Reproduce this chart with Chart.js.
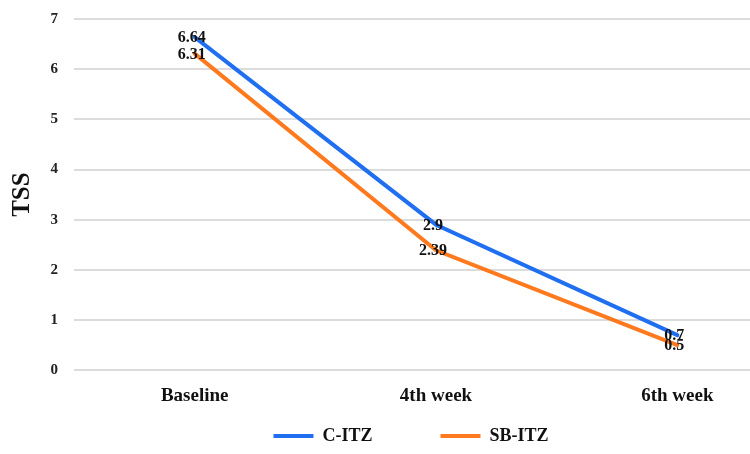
<!DOCTYPE html>
<html>
<head>
<meta charset="utf-8">
<script src="https://cdn.jsdelivr.net/npm/chart.js@4.4.0/dist/chart.umd.min.js"></script>
<style>
  html, body { margin: 0; padding: 0; background: #fff; overflow: hidden; }
  #wrap { width: 810px; height: 454px; position: relative; overflow: hidden; }
</style>
</head>
<body>
<div id="wrap"><canvas id="c" width="810" height="460"></canvas></div>
<script>
const categories = ["Baseline", "4th week", "6th week"];
const seriesNames = ["C-ITZ", "SB-ITZ"];
const cItz = [6.64, 2.9, 0.7];
const sbItz = [6.31, 2.39, 0.5];
const yTicks = [0, 1, 2, 3, 4, 5, 6, 7];

const FONT = "'Liberation Serif', 'Times New Roman', serif";

const valueLabels = {
  id: 'valueLabels',
  afterDatasetsDraw(chart) {
    const ctx = chart.ctx;
    ctx.save();
    ctx.font = "bold 16px " + FONT;
    ctx.fillStyle = "#111";
    ctx.textAlign = "center";
    ctx.textBaseline = "middle";
    chart.data.datasets.forEach((ds, i) => {
      const meta = chart.getDatasetMeta(i);
      meta.data.forEach((pt, j) => {
        ctx.fillText(String(ds.data[j]), pt.x - 3, pt.y + 1);
      });
    });
    ctx.restore();
  }
};

const legendShift = {
  id: 'legendShift',
  afterLayout(chart) {
    if (chart.legend) { chart.legend.left += 12; chart.legend.right += 12; }
  }
};

new Chart(document.getElementById('c'), {
  type: 'line',
  data: {
    labels: categories,
    datasets: [
      { label: seriesNames[0], data: cItz, borderColor: '#1f6ff0', backgroundColor: '#1f6ff0',
        borderWidth: 4, pointRadius: 0, tension: 0, borderCapStyle: 'round' },
      { label: seriesNames[1], data: sbItz, borderColor: '#ff7a1e', backgroundColor: '#ff7a1e',
        borderWidth: 4, pointRadius: 0, tension: 0, borderCapStyle: 'round' }
    ]
  },
  options: {
    responsive: false,
    animation: false,
    layout: { padding: { left: 0, right: 12, top: 19, bottom: 5 } },
    plugins: {
      tooltip: { enabled: false },
      legend: {
        position: 'bottom',
        labels: {
          usePointStyle: true,
          pointStyle: 'line',
          pointStyleWidth: 40,
          boxHeight: 4,
          padding: 14,
          color: '#111',
          font: { family: FONT, size: 18, weight: 'bold' },
          generateLabels(chart) {
            const items = Chart.defaults.plugins.legend.labels.generateLabels(chart);
            items.forEach((it, i) => {
              if (i < items.length - 1) it.text = it.text + '\u2003\u2003\u2003';
            });
            return items;
          }
        }
      }
    },
    scales: {
      x: {
        offset: true,
        grid: { display: false },
        border: { display: false },
        ticks: { color: '#111', padding: 6, font: { family: FONT, size: 19, weight: 'bold' } }
      },
      y: {
        min: 0, max: 7,
        afterBuildTicks(axis) { axis.ticks = yTicks.map(v => ({ value: v })); },
        afterFit(axis) { axis.width = 74; axis.paddingTop = 0; axis.paddingBottom = 0; },
        grid: { color: '#dcdcdc', lineWidth: 2, drawTicks: false },
        border: { display: false },
        ticks: { color: '#222', padding: 16, font: { family: FONT, size: 15, weight: 'bold' } },
        title: { display: true, text: 'TSS', color: '#111', padding: { top: 8, bottom: 0 },
                 font: { family: FONT, size: 25, weight: 'bold' } }
      }
    }
  },
  plugins: [valueLabels, legendShift]
});
</script>
</body>
</html>
